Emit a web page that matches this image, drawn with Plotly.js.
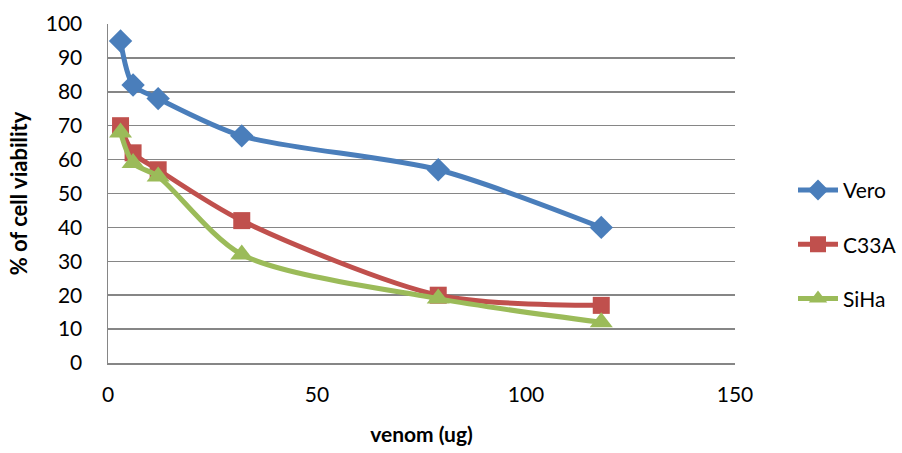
<!DOCTYPE html>
<html><head><meta charset="utf-8">
<script src="https://cdn.plot.ly/plotly-3.0.1.min.js"></script>
<style>html,body{margin:0;padding:0;background:#fff}#chart{width:902px;height:453px}</style>
</head><body><div id="chart"></div>
<script>
var venom = [3, 6, 12, 32, 79, 118];
var vero = [95, 82, 78, 67, 57, 40];
var c33a = [70, 62, 57, 42, 20, 17];
var siha = [68, 59, 55, 32, 19, 12];
var seriesNames = ['Vero', 'C33A', 'SiHa'];
var xTicks = [0, 50, 100, 150];
var yTicks = [0, 10, 20, 30, 40, 50, 60, 70, 80, 90, 100];

var colors = ['#4A7EBB', '#C0504D', '#9BBB59'];
var symbols = ['diamond', 'square', 'triangle-up'];
var sizes = [18, 17, 20];
var ys = [vero, c33a, siha];
var traces = ys.map(function(y, i){
  return {x: venom, y: y, name: seriesNames[i], type: 'scatter', mode: 'lines+markers',
    legendgroup: 'g' + i,
    line: {color: colors[i], width: 5, shape: 'spline', smoothing: 0.8},
    marker: {symbol: symbols[i], size: sizes[i], color: colors[i]}};
});
var font = "Lato, 'Open Sans', sans-serif";
var layout = {
  width: 902, height: 453,
  margin: {l: 108, r: 0, t: 24, b: 90},
  paper_bgcolor: '#fff', plot_bgcolor: '#fff',
  font: {family: font, size: 21, color: '#000'},
  showlegend: true,
  legend: {x: 0.863, xanchor: 'left', y: 0.35, yanchor: 'middle', traceorder: 'grouped',
    tracegroupgap: 24, font: {family: font, size: 21, color: '#000'}, itemwidth: 40},
  xaxis: {domain: [0, 0.7897], range: [0, 150], tickvals: xTicks, ticktext: xTicks.map(String), showgrid: false,
    zeroline: false, showline: true, linecolor: '#868686', linewidth: 1.5,
    ticks: 'outside', ticklen: 12, tickcolor: 'rgba(0,0,0,0)',
    tickfont: {family: font, size: 21}, fixedrange: true,
    title: {text: '<b>venom (ug)</b>', font: {family: font, size: 21}, standoff: 22}},
  yaxis: {range: [0, 100], tickvals: yTicks, ticktext: yTicks.map(String), showgrid: true,
    gridcolor: '#868686', gridwidth: 1.5, zeroline: false, showline: true, linecolor: '#868686',
    linewidth: 1.5, ticks: 'outside', ticklen: 20, tickcolor: 'rgba(0,0,0,0)',
    tickfont: {family: font, size: 21}, fixedrange: true,
    title: {text: '<b>% of cell viability</b>', font: {family: font, size: 22}, standoff: 12}}
};
Plotly.newPlot('chart', traces, layout, {displayModeBar: false, staticPlot: true});
</script></body></html>
